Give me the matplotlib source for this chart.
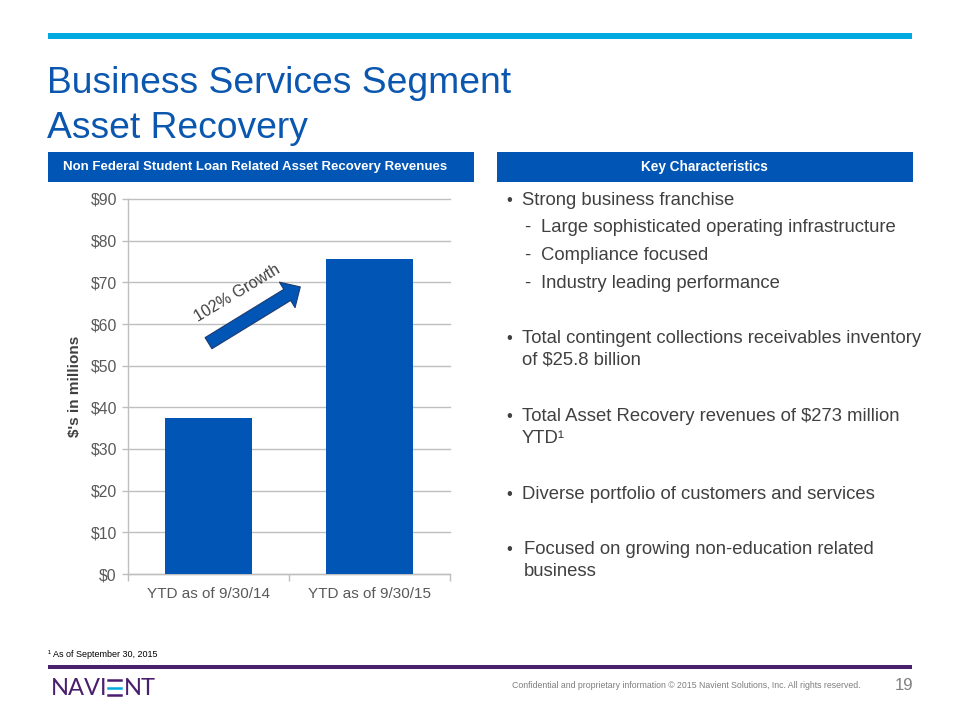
import matplotlib
matplotlib.use("Agg")
import matplotlib.pyplot as plt
import matplotlib.patches as mpatches
from matplotlib.patches import FancyArrowPatch
from matplotlib.ticker import FuncFormatter, FixedLocator

# ---------------- data ----------------
categories = ["YTD as of 9/30/14", "YTD as of 9/30/15"]
revenues = [37.4, 75.5]          # $ millions
y_ticks = [0, 10, 20, 30, 40, 50, 60, 70, 80, 90]
growth_label = "102% Growth"

title_lines = ["Business Services Segment", "Asset Recovery"]
left_header = "Non Federal Student Loan Related Asset Recovery Revenues"
right_header = "Key Characteristics"
bullets = [
    ("•", 205, ["Strong business franchise"]),
    ("•", 343, ["Total contingent collections receivables inventory", "of $25.8 billion"]),
    ("•", 421, ["Total Asset Recovery revenues of $273 million", "YTD¹"]),
    ("•", 499, ["Diverse portfolio of customers and services"]),
    ("•", 554, ["Focused on growing non-education related", "business"]),
]
sub_bullets = [
    (232, "Large sophisticated operating infrastructure"),
    (260, "Compliance focused"),
    (288, "Industry leading performance"),
]
footnote = "¹ As of September 30, 2015"
confidential = "Confidential and proprietary information © 2015 Navient Solutions, Inc. All rights reserved."
page_no = "19"

# ---------------- styles ----------------
W, H = 960, 720
BLUE = "#0055B5"
TITLE_BLUE = "#0B57B0"
CYAN = "#00A9E0"
PURPLE = "#4A1F6E"
TXT = "#404040"
GRAY_TXT = "#595959"
GRID = "#BFBFBF"
FONT = ["Liberation Sans", "DejaVu Sans"]

plt.rcParams["font.family"] = FONT

fig = plt.figure(figsize=(9.6, 7.2), dpi=100)
fig.patch.set_facecolor("white")


def fx(x):
    return x / W


def fy(y):
    return 1 - y / H


def frect(x0, y0, x1, y1, color):
    fig.patches.append(mpatches.Rectangle((fx(x0), fy(y1)), fx(x1 - x0), (y1 - y0) / H,
                                          transform=fig.transFigure, color=color, lw=0,
                                          zorder=1))


# top cyan bar
frect(48, 33, 912, 39, CYAN)

# title
fig.text(fx(47), fy(93), title_lines[0], fontsize=26.8, color=TITLE_BLUE, va="baseline", ha="left")
fig.text(fx(47), fy(138), title_lines[1], fontsize=26.8, color=TITLE_BLUE, va="baseline", ha="left")

# header boxes
frect(48, 152, 474, 182, BLUE)
frect(497, 152, 913, 182, BLUE)
fig.text(fx(255), fy(167), left_header, fontsize=9.5, fontweight="bold", color="white",
         ha="center", va="center")
fig.text(fx(704), fy(167), right_header, fontsize=9.8, fontweight="bold", color="white",
         ha="center", va="center")

# bullets
for sym, base, lines in bullets:
    fig.text(fx(506), fy(base), sym, fontsize=12, color=TXT, va="baseline", ha="left")
    tx = 524 if base > 540 else 522
    for i, ln in enumerate(lines):
        fig.text(fx(tx), fy(base + 22 * i), ln, fontsize=13.3, color=TXT, va="baseline", ha="left")
for base, ln in sub_bullets:
    fig.text(fx(524), fy(base), "-", fontsize=13.3, color=TXT, va="baseline", ha="left")
    fig.text(fx(541), fy(base), ln, fontsize=13.3, color=TXT, va="baseline", ha="left")

# ---------------- chart ----------------
ax = fig.add_axes([fx(128), fy(574), (450 - 128) / W, (574 - 199) / H])
x = list(range(len(categories)))
ax.bar(x, revenues, width=0.54, color=BLUE, zorder=3)
ax.set_xlim(-0.5, 1.5)
ax.set_ylim(0, 90)
ax.yaxis.set_major_locator(FixedLocator(y_ticks))
ax.yaxis.set_major_formatter(FuncFormatter(lambda v, p: f"${v:.0f}"))
ax.set_xticks(x)
ax.set_xticklabels(categories)
ax.set_xticks([-0.5, 0.5, 1.5], minor=True)
ax.tick_params(axis="x", which="major", length=0, pad=9, labelsize=11, labelcolor=GRAY_TXT)
ax.tick_params(axis="x", which="minor", length=5, color=GRID, width=1)
ax.tick_params(axis="y", which="major", length=4, color=GRID, width=1, pad=4,
               labelsize=11.3, labelcolor=GRAY_TXT)
ax.grid(axis="y", color=GRID, lw=1, zorder=0)
ax.set_axisbelow(True)
for s in ["top", "right"]:
    ax.spines[s].set_visible(False)
for s in ["left", "bottom"]:
    ax.spines[s].set_color(GRID)
    ax.spines[s].set_linewidth(1)
for gl in ax.yaxis.get_gridlines():
    gl.set_clip_on(False)

fig.text(fx(75), fy(386.5), "$'s in millions", rotation=90, fontsize=11, fontweight="bold",
         color=TXT, ha="center", va="center")

# growth arrow
arrow = FancyArrowPatch((0.0, 55.4), (0.57, 68.9),
                        arrowstyle="simple,head_length=11,head_width=21.5,tail_width=9.4",
                        mutation_scale=1, shrinkA=0, shrinkB=0,
                        facecolor=BLUE, edgecolor="#1F3A6E", lw=0.8, zorder=5, clip_on=False)
ax.add_patch(arrow)
ax.text(0.18, 67.3, growth_label, rotation=31, fontsize=11.5, color=TXT,
        ha="center", va="center", rotation_mode="anchor", zorder=6)

# ---------------- footer ----------------
fig.text(fx(48), fy(657), footnote, fontsize=6.5, color="black", va="baseline", ha="left")
frect(48, 665, 912, 669, PURPLE)

logo_font = ["Lato", "Liberation Sans", "DejaVu Sans"]
fig.text(fx(51), fy(695), "NAVI", fontsize=17, color=PURPLE, va="baseline", ha="left",
         family=logo_font)
# stylised E
fig.add_artist(plt.Line2D([fx(108), fx(121)], [fy(680), fy(680)], color=PURPLE, lw=1.8))
fig.add_artist(plt.Line2D([fx(108), fx(121)], [fy(687.5), fy(687.5)], color=CYAN, lw=1.8))
fig.add_artist(plt.Line2D([fx(108), fx(121)], [fy(695), fy(695)], color=PURPLE, lw=1.8))
fig.text(fx(124), fy(695), "NT", fontsize=17, color=PURPLE, va="baseline", ha="left",
         family=logo_font)

fig.text(fx(860), fy(688), confidential, fontsize=6.3, color="#7F7F7F", va="baseline", ha="right")
fig.text(fx(913), fy(690), page_no, fontsize=12, color="#7F7F7F", va="baseline", ha="right")

fig.savefig("out.png", dpi=100, facecolor="white")
